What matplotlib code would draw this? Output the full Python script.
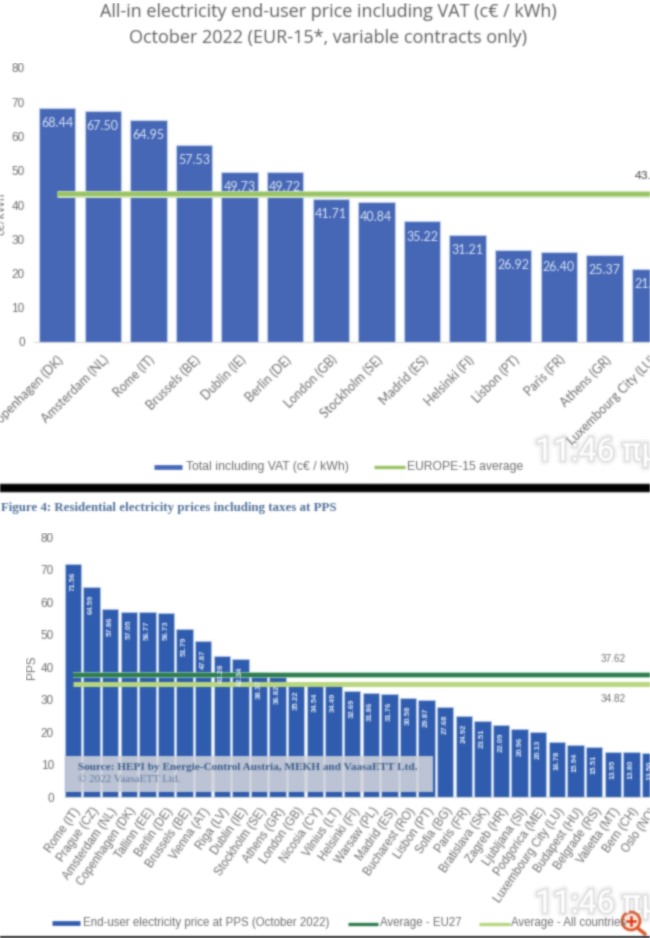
import numpy as np
import matplotlib
matplotlib.use("Agg")
import matplotlib.pyplot as plt
import matplotlib.patheffects as pe
from matplotlib.patches import Circle, FancyBboxPatch, Rectangle

W, H = 650, 938

top_cities = ["Copenhagen (DK)", "Amsterdam (NL)", "Rome (IT)", "Brussels (BE)", "Dublin (IE)",
              "Berlin (DE)", "London (GB)", "Stockholm (SE)", "Madrid (ES)", "Helsinki (FI)",
              "Lisbon (PT)", "Paris (FR)", "Athens (GR)", "Luxembourg City (LU)"]
top_values = [68.44, 67.50, 64.95, 57.53, 49.73, 49.72, 41.71, 40.84, 35.22, 31.21,
              26.92, 26.40, 25.37, 21.30]
top_avg = 43.20

bottom_cities = ["Rome (IT)", "Prague (CZ)", "Amsterdam (NL)", "Copenhagen (DK)", "Tallinn (EE)",
                 "Berlin (DE)", "Brussels (BE)", "Vienna (AT)", "Riga (LV)", "Dublin (IE)",
                 "Stockholm (SE)", "Athens (GR)", "London (GB)", "Nicosia (CY)", "Vilnius (LT)",
                 "Helsinki (FI)", "Warsaw (PL)", "Madrid (ES)", "Bucharest (RO)", "Lisbon (PT)",
                 "Sofia (BG)", "Paris (FR)", "Bratislava (SK)", "Zagreb (HR)", "Ljubljana (SI)",
                 "Podgorica (ME)", "Luxembourg City (LU)", "Budapest (HU)", "Belgrade (RS)",
                 "Valletta (MT)", "Bern (CH)", "Oslo (NO)"]
bottom_values = [71.56, 64.59, 57.86, 57.05, 56.77, 56.73, 51.79, 47.87, 43.28, 42.34,
                 38.37, 36.82, 35.22, 34.54, 34.49, 32.69, 31.86, 31.76, 30.58, 29.87,
                 27.68, 24.92, 23.51, 22.09, 20.96, 20.13, 16.78, 15.94, 15.51, 13.95,
                 13.80, 13.50]
eu27_avg = 37.62
all_avg = 34.82

GREY = "#6e6e6e"
BLUE_TOP = "#4667b6"
BLUE_BOTTOM = "#2f5cae"
GREEN_LIGHT = "#98c463"
GREEN_PALE = "#b9d77f"
GREEN_DARK = "#2c7d4f"


def px_axes(fig, left, top, right, bottom):
    return fig.add_axes([left / W, 1 - bottom / H, (right - left) / W, (bottom - top) / H])


def style_axes(ax):
    for s in ["top", "right", "left"]:
        ax.spines[s].set_visible(False)
    ax.spines["bottom"].set_color("#d9d9d9")
    ax.set_ylim(0, 80)
    ax.set_yticks(range(0, 90, 10))
    ax.tick_params(axis="both", length=0)
    ax.patch.set_alpha(0)


def soften(img, dpi):
    # the reference is a blurry screenshot, so smear each layer a little
    kernel = np.array([0.04, 0.2, 0.52, 0.2, 0.04])
    out = img.copy()
    out[..., :3] *= out[..., 3:4]
    for axis in (0, 1):
        out = np.apply_along_axis(lambda m: np.convolve(m, kernel, mode="same"), axis, out)
    a = np.clip(out[..., 3:4], 1e-4, 1)
    out[..., :3] = np.clip(out[..., :3] / a, 0, 1)
    return out, 0, 0


fig = plt.figure(figsize=(W / 100, H / 100), dpi=100, facecolor="white")

# upper chart
ax1 = px_axes(fig, 34.4, 68, 650, 342)
style_axes(ax1)
x1 = np.arange(len(top_values))
ax1.bar(x1, top_values, width=0.8, color=BLUE_TOP, edgecolor="#c5d2ee", linewidth=0.8)
ax1.plot(x1, [top_avg] * len(x1), color="#d4e6bd", linewidth=5, solid_capstyle="butt")
ax1.plot(x1, [top_avg] * len(x1), color=GREEN_LIGHT, linewidth=3, solid_capstyle="butt")
ax1.set_xlim(-0.5, -0.5 + (650 - 34.4) / 46.2)
ax1.set_xticks(x1)
ax1.set_xticklabels(top_cities, rotation=45, ha="right", va="top", rotation_mode="anchor",
                    family="Lato", fontsize=9, color=GREY)
ax1.tick_params(axis="x", pad=8)
ax1.tick_params(axis="y", pad=7, labelsize=8.5, labelcolor=GREY)
for lab in ax1.get_yticklabels():
    lab.set_family("Liberation Sans")
for xi, v in zip(x1, top_values):
    ax1.annotate(f"{v:.2f}", (xi, v), xytext=(0, -11), textcoords="offset points", ha="center",
                 va="center", family="Lato", fontsize=9, color="#dbe6f7", annotation_clip=False)
ax1.annotate(f"{top_avg:.2f}", (x1[-1], top_avg), xytext=(0, 13), textcoords="offset points",
             ha="center", va="center", family="Lato", fontsize=8.5, color="#404040",
             annotation_clip=False)

# lower chart
ax2 = px_axes(fig, 63.6, 537, 650, 797)
style_axes(ax2)
x2 = np.arange(len(bottom_values))
ax2.bar(x2, bottom_values, width=0.88, color=BLUE_BOTTOM, edgecolor="#bcd0ec", linewidth=0.5)
ax2.plot(x2, [eu27_avg] * len(x2), color="#a8d8b5", linewidth=4, solid_capstyle="butt")
ax2.plot(x2, [eu27_avg] * len(x2), color=GREEN_DARK, linewidth=3, solid_capstyle="butt")
ax2.plot(x2, [all_avg] * len(x2), color=GREEN_PALE, linewidth=3.6, solid_capstyle="butt")
ax2.set_xlim(-0.5, -0.5 + (650 - 63.6) / 18.75)
ax2.set_xticks(x2)
ax2.set_xticklabels(bottom_cities, rotation=55, ha="right", va="top", rotation_mode="anchor",
                    family="Liberation Sans", fontsize=8.3, color=GREY)
ax2.tick_params(axis="x", pad=6)
ax2.tick_params(axis="y", pad=7, labelsize=8.5, labelcolor=GREY)
for lab in ax2.get_yticklabels():
    lab.set_family("Liberation Sans")
ax2.set_ylabel("PPS", family="Liberation Sans", fontsize=8.5, color=GREY, labelpad=2)
for xi, v in zip(x2, bottom_values):
    ax2.annotate(f"{v:.2f}", (xi, v), xytext=(0, -12.5), textcoords="offset points", ha="center",
                 va="center", rotation=90, family="Liberation Sans", fontsize=5.6, fontweight="bold",
                 color="#e6eefa", annotation_clip=False)
ax2.annotate(f"{eu27_avg:.2f}", (29, eu27_avg), xytext=(0, 11), textcoords="offset points",
             ha="center", va="center", family="Liberation Sans", fontsize=7.2, color=GREY)
ax2.annotate(f"{all_avg:.2f}", (29, all_avg), xytext=(0, -11), textcoords="offset points",
             ha="center", va="center", family="Liberation Sans", fontsize=7.2, color=GREY)

# overlay in pixel coordinates for frame, titles, legends and the screenshot clutter
ov = fig.add_axes([0, 0, 1, 1], zorder=10)
ov.set_xlim(0, W)
ov.set_ylim(H, 0)
ov.axis("off")
ov.patch.set_alpha(0)

ov.add_patch(FancyBboxPatch((-10, 484), W + 20, 8, boxstyle="round,pad=0,rounding_size=3",
                            fc="black", ec="#555555", lw=0.6))
ov.add_patch(Rectangle((0, 936), W, 2, fc="#222222", ec="none"))

ov.text(328, 12, "All-in electricity end-user price including VAT (c€ / kWh)", ha="center",
        va="center", family="Open Sans", fontsize=13, color="#5f5f5f")
ov.text(328, 38, "October 2022 (EUR-15*, variable contracts only)", ha="center", va="center",
        family="Open Sans", fontsize=13, color="#5f5f5f")
ov.text(1, 214, "c€/kWh", rotation=90, ha="center", va="center", family="Lato", fontsize=8.5,
        color=GREY)
ov.text(1, 508, "Figure 4: Residential electricity prices including taxes at PPS", ha="left",
        va="center", family="Liberation Serif", fontweight="bold", fontsize=9.25, color="#4f6f99")

# legends
ov.plot([154, 182], [467, 467], color=BLUE_TOP, lw=3.4, solid_capstyle="butt")
ov.text(186, 467, "Total including VAT (c€ / kWh)", va="center", family="Liberation Sans",
        fontsize=8.8, color=GREY)
ov.plot([374, 405], [467, 467], color=GREEN_LIGHT, lw=2.4, solid_capstyle="butt")
ov.text(407, 467, "EUROPE-15 average", va="center", family="Liberation Sans", fontsize=8.7, color=GREY)
ov.plot([52, 80], [923, 923], color=BLUE_BOTTOM, lw=3.4, solid_capstyle="butt")
ov.text(83, 923, "End-user electricity price at PPS (October 2022)", va="center",
        family="Liberation Sans", fontsize=8.3, color=GREY)
ov.plot([348, 378], [924, 924], color=GREEN_DARK, lw=2.4, solid_capstyle="butt")
ov.text(380, 923, "Average - EU27", va="center", family="Liberation Sans", fontsize=8.3, color=GREY)
ov.plot([479, 510], [924, 924], color=GREEN_PALE, lw=2.4, solid_capstyle="butt")
ov.text(511, 923, "Average - All countries", va="center", family="Liberation Sans", fontsize=8.3,
        color=GREY, clip_on=True)

# source box
ov.add_patch(Rectangle((65, 756), 368, 36, fc="#cfd2da", ec="none", alpha=0.88))
ov.text(78, 767.5, "Source: HEPI by Energie-Control Austria, MEKH and VaasaETT Ltd.", va="center",
        family="Liberation Serif", fontweight="bold", fontsize=8.1, color="#3f5f8c")
ov.text(78, 780, "© 2022 VaasaETT Ltd.", va="center", family="Liberation Serif", fontsize=8,
        color="#5f7aa0")

# phone time stamps
glow = [pe.withStroke(linewidth=w, foreground="#8a8a8a", alpha=a) for w, a in [(7, 0.06), (4, 0.1), (2, 0.2)]]
for y in (452, 904):
    ov.text(535, y, "11:46 πμ", va="center", family="Roboto", fontsize=23, color="white",
            path_effects=glow + [pe.Normal()], clip_on=True)

# zoom icon
ov.add_patch(Circle((631, 921), 9, fc="#fbe6dc", ec="#de5a2c", lw=2))
ov.plot([637.5, 645], [928, 934], color="#de5a2c", lw=2.6, solid_capstyle="round")
ov.plot([627, 635], [921, 921], color="#de3a1c", lw=1.8)
ov.plot([631, 631], [917, 925], color="#de3a1c", lw=1.8)

for a in (ax1, ax2, ov):
    a.set_agg_filter(soften)

fig.savefig("out.png", dpi=100)
